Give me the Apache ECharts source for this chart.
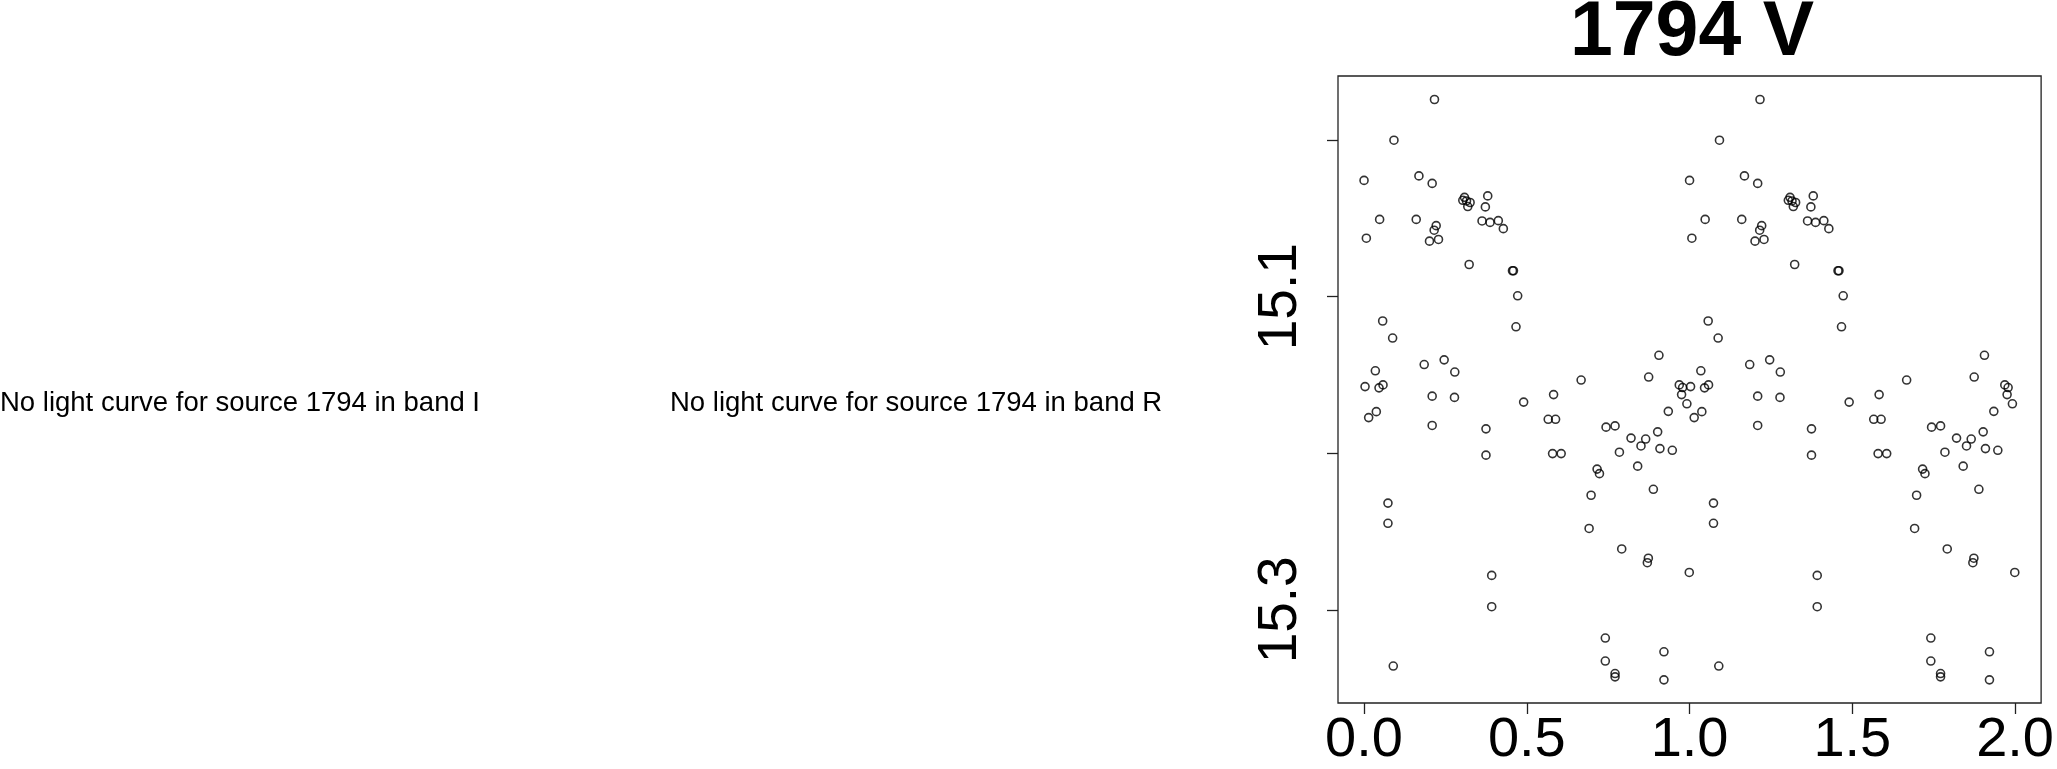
<!DOCTYPE html>
<html>
<head>
<meta charset="utf-8">
<script src="https://cdn.jsdelivr.net/npm/echarts@6/dist/echarts.min.js"></script>
<style>
html,body{margin:0;padding:0;background:#fff;}
#chart{width:2057px;height:769px;}
</style>
</head>
<body>
<div id="chart"></div>
<script>
// Phase (0..1) and V magnitude
const phase = [
  0.2164, 0.0919, 0.0000, 0.1686, 0.2093, 0.3086, 0.3034, 0.3147, 0.3258, 0.3187,
  0.3800, 0.3727, 0.0479, 0.1603, 0.2216, 0.2154, 0.2011, 0.2287, 0.0071, 0.3625,
  0.3871, 0.4125, 0.4279, 0.3229, 0.4560, 0.4590, 0.4720, 0.4668, 0.0572, 0.0878,
  0.0347, 0.1848, 0.2461, 0.2788, 0.0031, 0.0460, 0.0583, 0.9059, 0.8744, 0.6669,
  0.9684, 0.9786, 0.5823, 0.9755, 0.4903, 0.5658, 0.5884, 0.5792, 0.6056, 0.7435,
  0.7711, 0.8202, 0.8508, 0.8652, 0.9020, 0.9090, 0.9470, 0.7845, 0.8406, 0.7159,
  0.7232, 0.6975, 0.8888, 0.6914, 0.7916, 0.8734, 0.8703, 0.9991, 0.7412, 0.7412,
  0.7711, 0.7711, 0.9213, 0.9213, 0.9347, 0.9918, 0.0142, 0.0377, 0.2093, 0.2778,
  0.2093, 0.3746, 0.3746, 0.0735, 0.0735, 0.3922, 0.3922, 0.0898
];
const mag = [
  14.974, 15.000, 15.0257, 15.0228, 15.0276, 15.0365, 15.0384, 15.0388, 15.0398, 15.0424,
  15.0356, 15.0426, 15.0506, 15.0506, 15.0546, 15.0575, 15.0645, 15.0634, 15.0626, 15.0516,
  15.0525, 15.0514, 15.0565, 15.0794, 15.0834, 15.0834, 15.0994, 15.1192, 15.1155, 15.1264,
  15.1473, 15.1433, 15.1403, 15.1481, 15.1574, 15.1582, 15.1563, 15.1374, 15.1513, 15.1532,
  15.1563, 15.1580, 15.1625, 15.1625, 15.1673, 15.1783, 15.1783, 15.2002, 15.2002, 15.1833,
  15.1825, 15.1903, 15.1953, 15.1909, 15.1863, 15.1970, 15.1981, 15.1993, 15.2082, 15.2101,
  15.2130, 15.2268, 15.2230, 15.2480, 15.2611, 15.2670, 15.2699, 15.2761, 15.3180, 15.3327,
  15.3407, 15.3428, 15.3268, 15.3447, 15.1732, 15.1684, 15.1772, 15.1734, 15.1635, 15.1643,
  15.1822, 15.1844, 15.2012, 15.2318, 15.2447, 15.2780, 15.2980, 15.3359
];
const xTicks = [0.0, 0.5, 1.0, 1.5, 2.0];
const yTicks = [15.0, 15.1, 15.2, 15.3];
const yLabels = [15.1, 15.3];
const titleText = '1794 V';
const noCurveI = 'No light curve for source 1794 in band I';
const noCurveR = 'No light curve for source 1794 in band R';

const cycle1 = phase.map((p, i) => [p, mag[i]]);
const cycle2 = phase.map((p, i) => [p + 1, mag[i]]);

const FONT = '"Liberation Sans", Arial, Helvetica, sans-serif';
const pointStyle = {
  type: 'scatter',
  symbol: 'circle',
  symbolSize: 8,
  itemStyle: { color: 'rgba(0,0,0,0)', borderColor: '#000', borderWidth: 1.6 },
  emphasis: { disabled: true },
  silent: true
};

const chart = echarts.init(document.getElementById('chart'), null, { renderer: 'canvas' });
chart.setOption({
  backgroundColor: '#ffffff',
  animation: false,
  grid: {
    left: 1338, top: 76, width: 704, height: 635,
    show: true, borderColor: '#222', borderWidth: 1.3, backgroundColor: 'transparent'
  },
  xAxis: {
    type: 'value', min: -0.08, max: 2.08,
    axisLine: { show: false, onZero: false },
    splitLine: { show: false },
    axisTick: { show: true, length: 11, lineStyle: { color: '#222', width: 1.3 }, customValues: xTicks },
    axisLabel: {
      customValues: xTicks, margin: 10, fontSize: 56, color: '#000', fontFamily: FONT,
      formatter: v => v.toFixed(1)
    }
  },
  yAxis: {
    type: 'value', inverse: true, min: 14.959, max: 15.3595,
    axisLine: { show: false, onZero: false },
    splitLine: { show: false },
    axisTick: { show: true, length: 11, lineStyle: { color: '#222', width: 1.3 }, customValues: yTicks },
    axisLabel: {
      customValues: yLabels, rotate: 90, margin: 30, fontSize: 55, color: '#000', fontFamily: FONT,
      formatter: v => v.toFixed(1)
    }
  },
  series: [
    Object.assign({ data: cycle1 }, pointStyle),
    Object.assign({ data: cycle2 }, pointStyle)
  ],
  graphic: [
    { type: 'text', x: 1692, y: 34, silent: true,
      style: { text: titleText, font: 'bold 77px ' + FONT, fill: '#000', align: 'center', verticalAlign: 'middle' } },
    { type: 'text', x: 0, y: 403, silent: true,
      style: { text: noCurveI, font: '27.5px ' + FONT, fill: '#000', align: 'left', verticalAlign: 'middle' } },
    { type: 'text', x: 670, y: 403, silent: true,
      style: { text: noCurveR, font: '27.5px ' + FONT, fill: '#000', align: 'left', verticalAlign: 'middle' } }
  ]
});
</script>
</body>
</html>
